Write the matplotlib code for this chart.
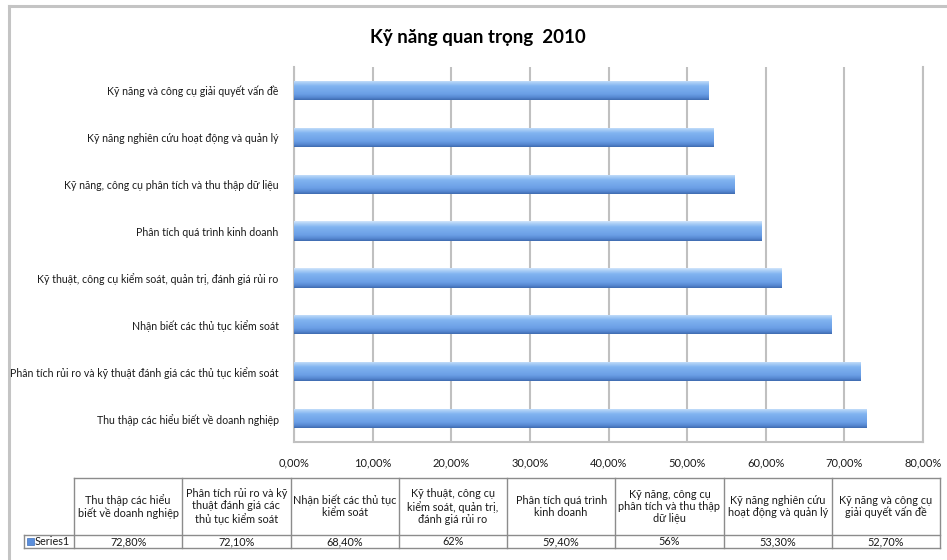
import matplotlib
matplotlib.use("Agg")
import matplotlib.pyplot as plt
import numpy as np
from matplotlib.patches import Rectangle
from matplotlib.lines import Line2D
from matplotlib.colors import LinearSegmentedColormap

plt.rcParams['font.family'] = ['Lato', 'DejaVu Sans']

# ---- data ----
title = "Kỹ năng quan trọng  2010"
categories = [
    "Thu thập các hiểu biết về doanh nghiệp",
    "Phân tích rủi ro và kỹ thuật đánh giá các thủ tục kiểm soát",
    "Nhận biết các thủ tục kiểm soát",
    "Kỹ thuật, công cụ kiểm soát, quản trị, đánh giá rủi ro",
    "Phân tích quá trình kinh doanh",
    "Kỹ năng, công cụ phân tích và thu thập dữ liệu",
    "Kỹ năng nghiên cứu hoạt động và quản lý",
    "Kỹ năng và công cụ giải quyết vấn đề",
]
values = [72.8, 72.1, 68.4, 62, 59.4, 56, 53.3, 52.7]
series_name = "Series1"
x_ticks = [0, 10, 20, 30, 40, 50, 60, 70, 80]

W, H = 947, 560
fig = plt.figure(figsize=(W / 100, H / 100), dpi=100)
fig.patch.set_facecolor("white")


def fx(px):
    return px / W


def fy(py):
    return 1 - py / H


def pct(v, decimals=True):
    if float(v).is_integer() and not decimals:
        return f"{int(v)}%"
    return f"{v:.2f}".replace(".", ",") + "%"


# outer chart frame (left and top edges)
fig.add_artist(Line2D([fx(9), fx(9)], [fy(6), fy(562)], color="#c4c4c4", lw=2.2,
                      transform=fig.transFigure))
fig.add_artist(Line2D([fx(9), fx(950)], [fy(6), fy(6)], color="#c4c4c4", lw=2.2,
                      transform=fig.transFigure))

# title
fig.text(fx(478), fy(38), title, ha="center", va="center", fontsize=13.5,
         fontweight="bold", color="black")

# ---- bar chart ----
ax = fig.add_axes([fx(294), fy(442), fx(923) - fx(294), fy(67) - fy(442)])
ypos = np.arange(len(categories))
bars = ax.barh(ypos, values, height=0.41, color="#6a9fe4", edgecolor="none", zorder=3)

# vertical shading on each bar: light rim on top, darker lower edge
grad = np.linspace(0, 1, 128).reshape(-1, 1)
cmap = LinearSegmentedColormap.from_list(
    "barshade",
    [(0.0, "#d3e6fb"), (0.12, "#acd0f7"), (0.3, "#80b3f0"),
     (0.7, "#6b9fe6"), (0.88, "#5586d0"), (1.0, "#3e6aae")])
for b in bars:
    x0, y0 = b.get_x(), b.get_y()
    w, h = b.get_width(), b.get_height()
    im = ax.imshow(grad, extent=(x0, x0 + w, y0, y0 + h), aspect="auto",
                   origin="upper", cmap=cmap, zorder=4, interpolation="bilinear")
    im.set_clip_path(b)

ax.set_xlim(0, 80)
ax.set_ylim(-0.5, len(categories) - 0.5)
ax.set_xticks(x_ticks)
ax.set_xticklabels([pct(t) for t in x_ticks], fontsize=8, color="#1a1a1a")
ax.set_yticks(ypos)
ax.set_yticklabels(categories, fontsize=7.6, color="#1a1a1a")
ax.tick_params(axis="both", length=0)
ax.tick_params(axis="y", pad=11)
ax.tick_params(axis="x", pad=11)
ax.grid(axis="x", color="#c0c0c0", lw=1.5, zorder=1)
ax.set_axisbelow(True)
ax.spines["top"].set_visible(False)
for s in ["left", "right", "bottom"]:
    ax.spines[s].set_color("#c0c0c0")
    ax.spines[s].set_linewidth(1.5)

# ---- data table ----
t_left, t_first, t_right = 24, 74, 940
t_top, t_mid, t_bot = 478, 535, 548
ncol = len(categories)
col_edges = np.linspace(t_first, t_right, ncol + 1)
line_kw = dict(color="#8c8c8c", lw=1.0, transform=fig.transFigure)

fig.add_artist(Line2D([fx(t_first), fx(t_right)], [fy(t_top), fy(t_top)], **line_kw))
fig.add_artist(Line2D([fx(t_left), fx(t_right)], [fy(t_mid), fy(t_mid)], **line_kw))
fig.add_artist(Line2D([fx(t_left), fx(t_right)], [fy(t_bot), fy(t_bot)], **line_kw))
fig.add_artist(Line2D([fx(t_left), fx(t_left)], [fy(t_mid), fy(t_bot)], **line_kw))
for xe in col_edges:
    fig.add_artist(Line2D([fx(xe), fx(xe)], [fy(t_top), fy(t_bot)], **line_kw))

renderer = fig.canvas.get_renderer()


def wrap_text(s, max_px, size):
    words = s.split()
    lines, cur = [], ""
    for w in words:
        trial = (cur + " " + w).strip()
        t = fig.text(0, 0, trial, fontsize=size)
        width = t.get_window_extent(renderer).width
        t.remove()
        if width <= max_px or not cur:
            cur = trial
        else:
            lines.append(cur)
            cur = w
    lines.append(cur)
    return "\n".join(lines)


cell_fs = 7.8
for i, cat in enumerate(categories):
    cx = (col_edges[i] + col_edges[i + 1]) / 2
    cw = col_edges[i + 1] - col_edges[i]
    fig.text(fx(cx), fy((t_top + t_mid) / 2), wrap_text(cat, cw - 2, cell_fs),
             ha="center", va="center", fontsize=cell_fs, color="#1a1a1a",
             linespacing=1.15)
    fig.text(fx(cx), fy((t_mid + t_bot) / 2), pct(values[i], decimals=False),
             ha="center", va="center", fontsize=cell_fs, color="#1a1a1a")

# series row header with legend key
fig.add_artist(Rectangle((fx(27), fy(545)), fx(7), fy(538) - fy(545),
                         facecolor="#5b8fdc", edgecolor="#3f6fb8", lw=0.5,
                         transform=fig.transFigure))
fig.text(fx(35), fy((t_mid + t_bot) / 2), series_name, ha="left", va="center",
         fontsize=cell_fs, color="#1a1a1a")

fig.savefig("out.png", dpi=100, facecolor="white")
